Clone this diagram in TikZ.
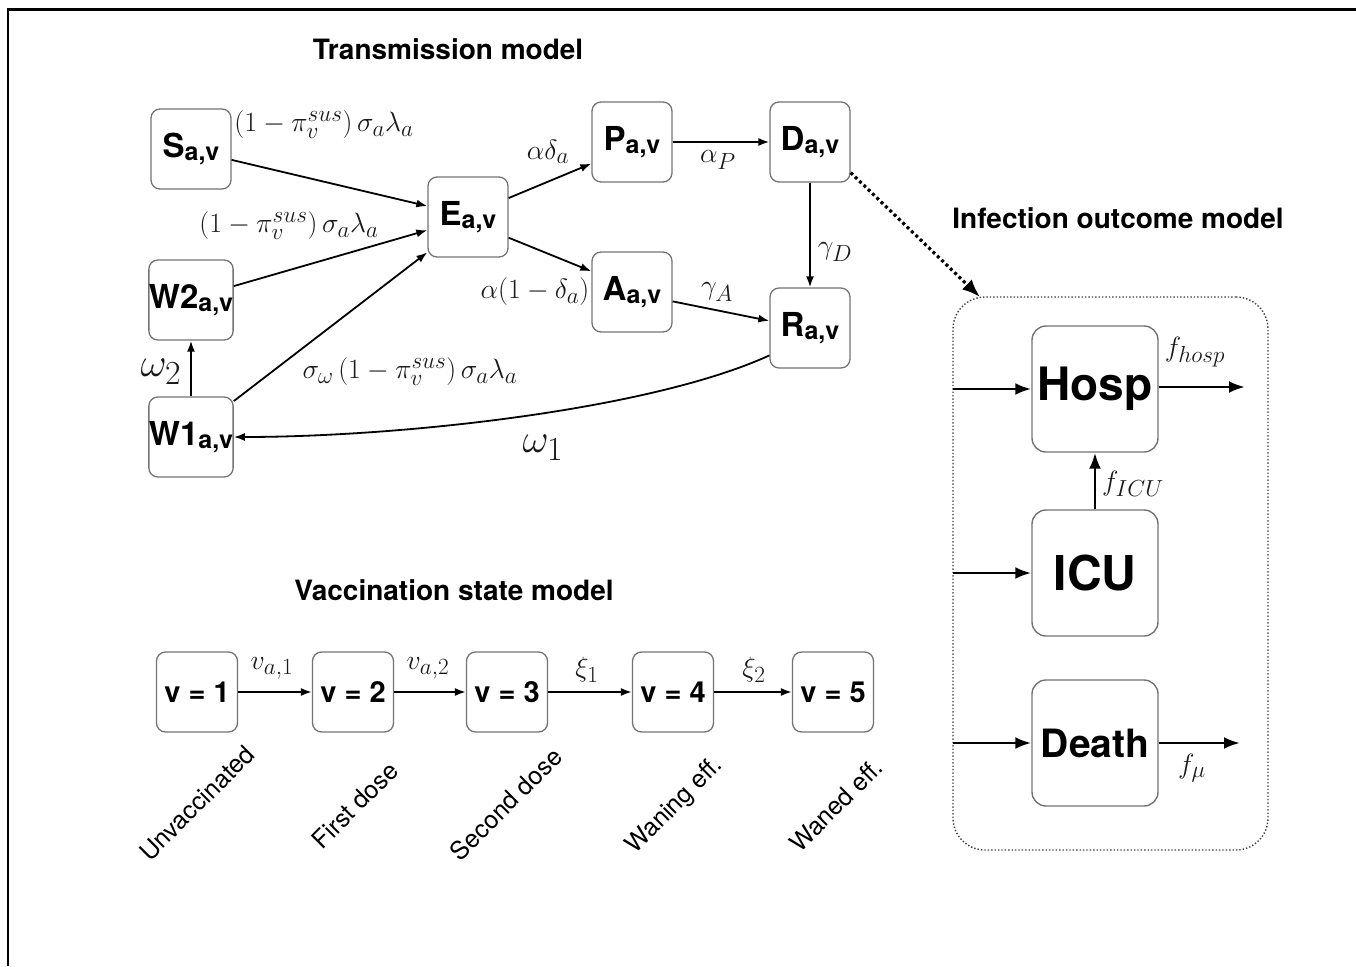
\documentclass[tikz,border=0pt]{standalone}
\usepackage{fontspec}
\setsansfont{TeX Gyre Heros}
\usetikzlibrary{arrows.meta}
\newcommand{\cmp}[2]{#1{\fontsize{25}{28}\selectfont\raisebox{-3pt}{#2}}}
\begin{document}
\begin{tikzpicture}[x=1pt,y=1pt,
  box/.style={draw=black!55, line width=1.3pt, rounded corners=9pt, minimum width=80pt, minimum height=80pt, inner sep=0pt, font=\sffamily\bfseries\fontsize{33}{38}\selectfont},
  bigbox/.style={draw=black!55, line width=1.4pt, rounded corners=14pt, minimum width=126pt, minimum height=126pt, inner sep=0pt, font=\sffamily\bfseries\fontsize{46}{52}\selectfont},
  vbox/.style={draw=black!55, line width=1.3pt, rounded corners=9pt, minimum width=81pt, minimum height=80pt, inner sep=0pt, font=\sffamily\bfseries\fontsize{29}{34}\selectfont},
  arr/.style={-{Latex[length=11pt,width=8pt]}, line width=1.8pt},
  barr/.style={-{Latex[length=16pt,width=12pt]}, line width=2.8pt},
  lbl/.style={font=\fontsize{24.88}{30}\selectfont, text=black!90, inner sep=0pt, scale=1.12},
  big/.style={scale=1.45},
  title/.style={font=\sffamily\bfseries\fontsize{28}{32}\selectfont},
  rot/.style={font=\sffamily\fontsize{25}{30}\selectfont, rotate=45}
]
\useasboundingbox (0,0) rectangle (1356,-966);
% frame
\draw[line width=3pt] (7,-9.5) -- (1356,-9.5);
\draw[line width=2.5pt] (8,-9.5) -- (8,-966);

% titles
\node[title] (t1) at (448,-49) {Transmission model};
\node[title] (t2) at (1118,-218) {Infection outcome model};
\node[title] (t3) at (454,-590) {Vaccination state model};

% transmission nodes
\node[box] (S) at (191,-149) {\cmp{S}{a,v}};
\node[box] (E) at (468,-217) {\cmp{E}{a,v}};
\node[box] (W2) at (191,-300) {\cmp{W2}{a,v}};
\node[box] (W1) at (191,-437) {\cmp{W1}{a,v}};
\node[box] (P) at (632,-142) {\cmp{P}{a,v}};
\node[box] (D) at (810,-142) {\cmp{D}{a,v}};
\node[box] (A) at (632,-292) {\cmp{A}{a,v}};
\node[box] (R) at (810,-328) {\cmp{R}{a,v}};

\draw[arr] (S.-15) -- (E.165);
\draw[arr] (W2.18) -- (E.-162);
\draw[arr] (W1.40) -- (E.-139);
\draw[arr] (W1.north) -- (W2.south);
\draw[arr] (E.25) -- (P.-152);
\draw[arr] (E.-27) -- (A.153);
\draw[arr] (P.east) -- (D.west);
\draw[arr] (D.south) -- (R.north);
\draw[arr] (A.-13) -- (R.170);
\draw[arr] (R.-146) .. controls (650,-410) and (400,-437) .. (W1.east);

\node[lbl] (l1) at (324,-125) {$(1-\pi_v^{sus})\,\sigma_a\lambda_a$};
\node[lbl] (l2) at (289,-226) {$(1-\pi_v^{sus})\,\sigma_a\lambda_a$};
\node[lbl] (l3) at (410,-372) {$\sigma_\omega\,(1-\pi_v^{sus})\,\sigma_a\lambda_a$};
\node[lbl] (l4) at (548,-152) {$\alpha\delta_a$};
\node[lbl] (l5) at (535,-292) {$\alpha(1-\delta_a)$};
\node[lbl] (l6) at (718,-160) {$\alpha_P$};
\node[lbl] (l7) at (835,-252) {$\gamma_D$};
\node[lbl] (l8) at (717,-292) {$\gamma_A$};
\node[lbl, big] (l9) at (161,-372) {$\omega_2$};
\node[lbl, big] (l10) at (543,-448) {$\omega_1$};

% vaccination
\node[vbox] (v1) at (197,-692) {v = 1};
\node[vbox] (v2) at (353,-692) {v = 2};
\node[vbox] (v3) at (507,-692) {v = 3};
\node[vbox] (v4) at (673,-692) {v = 4};
\node[vbox] (v5) at (833,-692) {v = 5};
\draw[arr] (v1) -- (v2);
\draw[arr] (v2) -- (v3);
\draw[arr] (v3) -- (v4);
\draw[arr] (v4) -- (v5);
\node[lbl] (m1) at (272,-668) {$v_{a,1}$};
\node[lbl] (m2) at (428,-668) {$v_{a,2}$};
\node[lbl] (m3) at (587,-670) {$\xi_1$};
\node[lbl] (m4) at (754,-670) {$\xi_2$};
\node[rot] (r1) at (197,-803) {Unvaccinated};
\node[rot] (r2) at (355,-805) {First dose};
\node[rot] (r3) at (506,-804) {Second dose};
\node[rot] (r4) at (675,-806) {Waning eff.};
\node[rot] (r5) at (836,-805) {Waned eff.};

% infection outcome
\node[draw=black!75, dotted, line width=1.4pt, rounded corners=32pt, minimum width=315pt, minimum height=553pt] (C) at (1110.5,-573.5) {};
\node[bigbox] (H) at (1095,-389) {Hosp};
\node[bigbox, font=\sffamily\bfseries\fontsize{48}{54}\selectfont] (I) at (1095,-573) {ICU};
\node[bigbox, font=\sffamily\bfseries\fontsize{39}{44}\selectfont] (De) at (1095,-743) {Death};
\coordinate (inH) at (953,-389);
\coordinate (inI) at (953,-573);
\coordinate (inD) at (953,-743);
\coordinate (outH) at (1245,-387);
\coordinate (outD) at (1240,-743);
\draw[barr] (inH) -- (H.west);
\draw[barr] (inI) -- (I.west);
\draw[barr] (inD) -- (De.west);
\draw[barr] (H.east |- outH) -- (outH);
\draw[barr] (De.east) -- (outD);
\draw[barr] (I.north) -- (H.south);
\node[lbl] (fh) at (1195,-352) {$f_{hosp}$};
\node[lbl] (fi) at (1133,-484) {$f_{ICU}$};
\node[lbl] (fm) at (1192,-768) {$f_{\mu}$};
\coordinate (tip) at (980,-297);
\draw[line width=3.2pt, dash pattern=on 3pt off 3pt, -{Latex[length=18pt,width=14pt]}] (D.-37) -- (tip);
\end{tikzpicture}
\end{document}
